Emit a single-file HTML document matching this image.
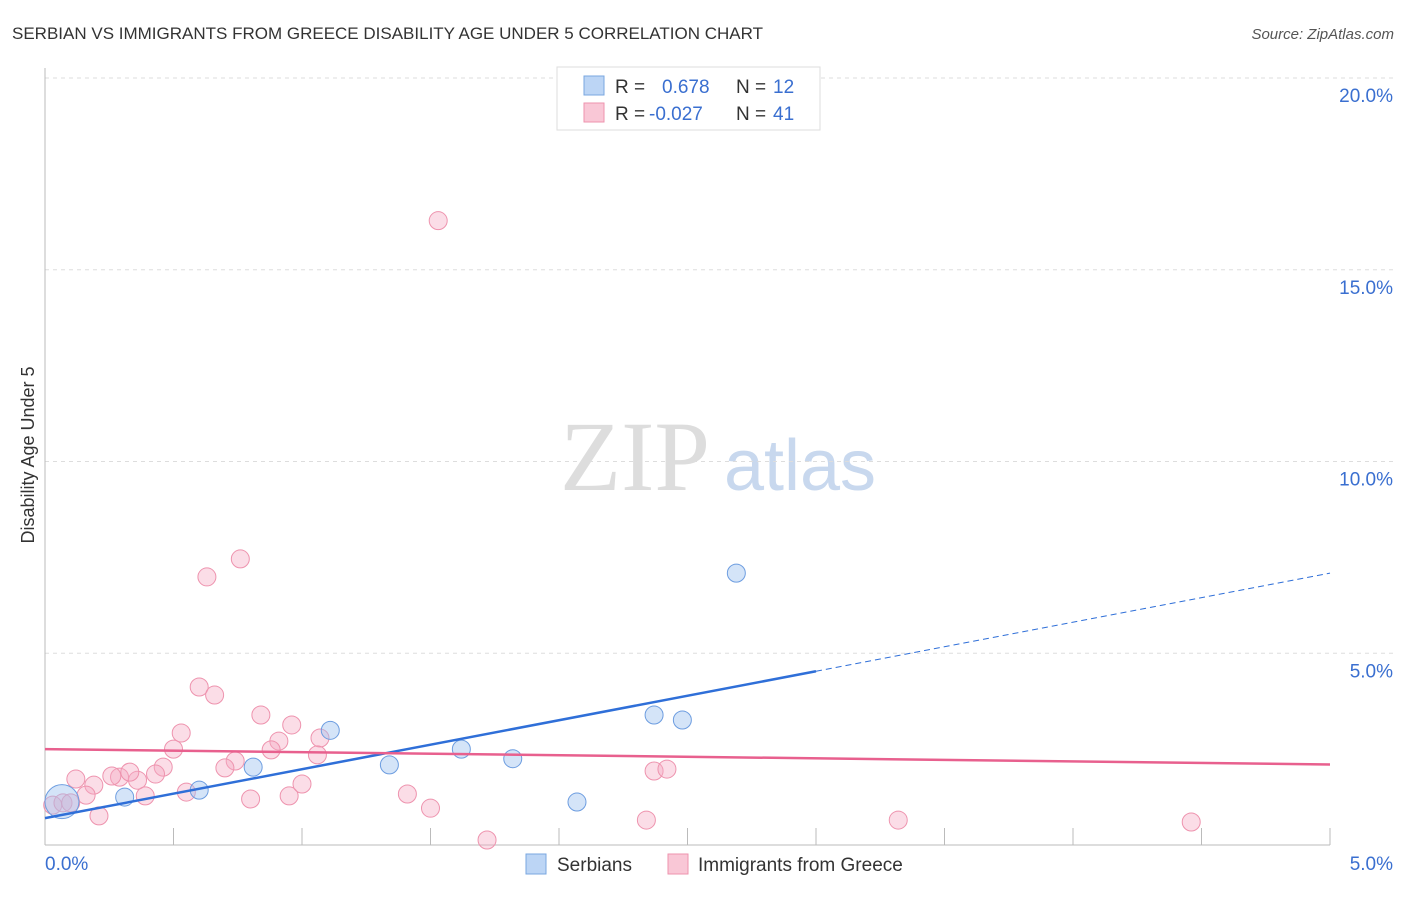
<!DOCTYPE html>
<html><head><meta charset="utf-8"><style>
body{margin:0;background:#fff;font-family:"Liberation Sans",sans-serif;}
svg text{font-family:"Liberation Sans",sans-serif;}
</style></head><body>
<svg id="c" width="1406" height="892" xmlns="http://www.w3.org/2000/svg">
<text x="12" y="39" font-size="17" fill="#333">SERBIAN VS IMMIGRANTS FROM GREECE DISABILITY AGE UNDER 5 CORRELATION CHART</text>
<text x="1394" y="39" font-size="15" fill="#555" font-style="italic" text-anchor="end">Source: ZipAtlas.com</text>
<text transform="translate(34,455) rotate(-90)" font-size="18" fill="#333" text-anchor="middle">Disability Age Under 5</text>
<g><text x="635" y="490" font-size="100" fill="#ddd" style="font-family:'Liberation Serif',serif" text-anchor="middle">ZIP</text><text x="800" y="490" font-size="72" fill="#c8d8ee" text-anchor="middle">atlas</text></g>
<g id="grid"></g><g id="marks"></g>
<g>
<rect x="557" y="67" width="263" height="63" fill="#fff" stroke="#ddd"/>
<rect x="584" y="76" width="20" height="19" fill="#bcd5f5" stroke="#7aa7e0"/>
<rect x="584" y="103" width="20" height="19" fill="#f9c7d6" stroke="#ee93ae"/>
<text x="615" y="93" font-size="19" fill="#333">R =</text><text x="662" y="93" font-size="19" fill="#3a6fd0">0.678</text>
<text x="736" y="93" font-size="19" fill="#333">N =</text><text x="773" y="93" font-size="19" fill="#3a6fd0">12</text>
<text x="615" y="120" font-size="19" fill="#333">R =</text><text x="649" y="120" font-size="19" fill="#3a6fd0">-0.027</text>
<text x="736" y="120" font-size="19" fill="#333">N =</text><text x="773" y="120" font-size="19" fill="#3a6fd0">41</text>
</g>
<g>
<rect x="526" y="854" width="20" height="20" fill="#bcd5f5" stroke="#7aa7e0"/>
<text x="557" y="871" font-size="19" fill="#333">Serbians</text>
<rect x="668" y="854" width="20" height="20" fill="#f9c7d6" stroke="#ee93ae"/>
<text x="698" y="871" font-size="19" fill="#333">Immigrants from Greece</text>
</g>
</svg>
<script>
const yTicks=[5,10,15,20];
const yTickLabels=["5.0%","10.0%","15.0%","20.0%"];
const xTickLabels=["0.0%","5.0%"];
const serbX=[0.066,0.31,0.60,0.81,1.11,1.34,1.62,1.82,2.07,2.37,2.48,2.69];
const serbY=[1.13,1.25,1.43,2.03,2.99,2.09,2.5,2.25,1.12,3.39,3.26,7.09];
const serbR=[17,9,9,9,9,9,9,9,9,9,9,9];
const grX=[1.53,0.76,0.63,0.60,0.66,0.84,0.96,0.53,0.50,0.91,1.07,0.88,1.06,0.74,0.46,0.70,0.43,0.36,0.29,0.26,0.12,0.19,0.33,0.16,0.39,0.55,0.80,0.95,1.00,1.41,1.50,0.21,1.72,2.34,2.37,2.42,3.32,4.46,0.03,0.07,0.10];
const grY=[16.28,7.46,6.99,4.12,3.91,3.39,3.13,2.92,2.50,2.71,2.79,2.48,2.35,2.19,2.03,2.01,1.85,1.69,1.77,1.80,1.72,1.56,1.90,1.30,1.28,1.38,1.20,1.28,1.59,1.33,0.96,0.76,0.13,0.65,1.93,1.98,0.65,0.60,1.04,1.10,1.10];
const blueLine=[0,0.7,3.0,4.53,5.0,7.09];
const pinkLine=[0,2.5,5.0,2.1];
const X=v=>45+v*257, Y=v=>845-v*38.35;
const NS="http://www.w3.org/2000/svg";
function mk(t,a,p){const e=document.createElementNS(NS,t);for(const k in a)e.setAttribute(k,a[k]);p.appendChild(e);return e;}
const g=document.getElementById('grid'),m=document.getElementById('marks');
yTicks.forEach((t,i)=>{const l=mk('line',{x1:45,x2:1394,y1:Y(t),y2:Y(t),stroke:'#ddd','stroke-dasharray':'4,4'},g);


const tx=mk('text',{x:1393,y:Y(t)+24,'font-size':19,fill:'#3a6fd0','text-anchor':'end'},g);tx.textContent=yTickLabels[i];

});
mk('line',{x1:45,x2:45,y1:68,y2:845,stroke:'#bbb'},g);
mk('line',{x1:45,x2:1330,y1:845,y2:845,stroke:'#bbb'},g);
for(let i=1;i<=10;i++){const t=mk('line',{x1:X(i*0.5),x2:X(i*0.5),y1:828,y2:845,stroke:'#bbb'},g);}
[[0,45,'start'],[5,1393,'end']].forEach((d,i)=>{const tx=mk('text',{x:d[1],y:870,'font-size':19,fill:'#3a6fd0','text-anchor':d[2]},g);tx.textContent=xTickLabels[i];

});
grX.forEach((x,i)=>{const c=mk('circle',{cx:X(x),cy:Y(grY[i]),r:9,fill:'rgba(246,170,195,0.4)',stroke:'#ee93ae','stroke-width':1},m);

});
serbX.forEach((x,i)=>{const c=mk('circle',{cx:X(x),cy:Y(serbY[i]),r:serbR[i],fill:'rgba(160,195,240,0.45)',stroke:'#6d9de0','stroke-width':1},m);

});
let l=mk('line',{x1:X(blueLine[0]),y1:Y(blueLine[1]),x2:X(blueLine[2]),y2:Y(blueLine[3]),stroke:'#2f6fd8','stroke-width':2.5},m);


l=mk('line',{x1:X(blueLine[2]),y1:Y(blueLine[3]),x2:X(blueLine[4]),y2:Y(blueLine[5]),stroke:'#2f6fd8','stroke-width':1,'stroke-dasharray':'6,4'},m);


l=mk('line',{x1:X(pinkLine[0]),y1:Y(pinkLine[1]),x2:X(pinkLine[2]),y2:Y(pinkLine[3]),stroke:'#e8608e','stroke-width':2.5},m);


</script>
</body></html>
